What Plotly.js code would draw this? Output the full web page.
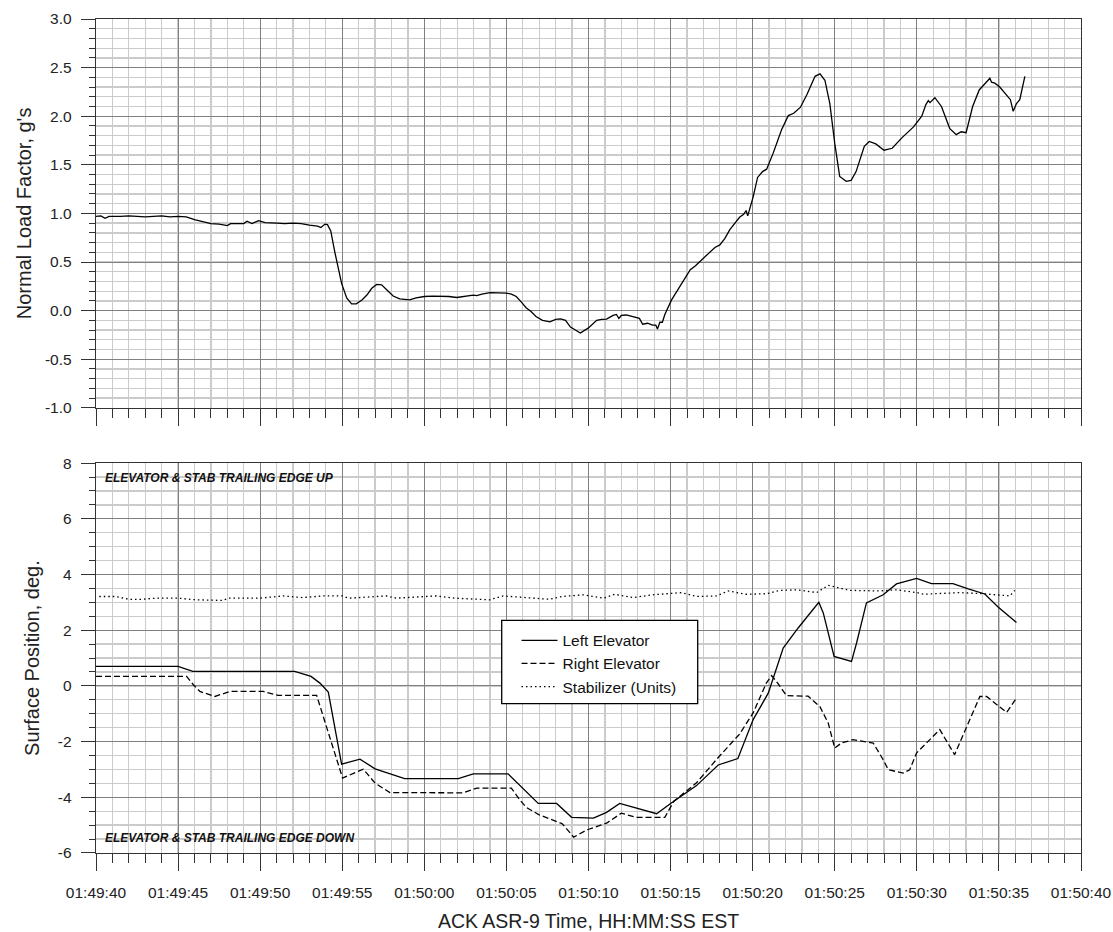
<!DOCTYPE html>
<html><head><meta charset="utf-8">
<script src="https://cdn.plot.ly/plotly-3.0.1.min.js"></script>
<style>html,body{margin:0;padding:0;background:#fff}#chart{width:1113px;height:932px}</style>
</head><body><div id="chart"></div>
<script>
// time axis: seconds after 01:49:40 EST
const tickSeconds = [0,5,10,15,20,25,30,35,40,45,50,55,60];
const timeLabels = ['01:49:40','01:49:45','01:49:50','01:49:55','01:50:00','01:50:05','01:50:10','01:50:15','01:50:20','01:50:25','01:50:30','01:50:35','01:50:40'];
const loadTicks = [-1.0,-0.5,0.0,0.5,1.0,1.5,2.0,2.5,3.0];
const loadTickLabels = ['-1.0','-0.5','0.0','0.5','1.0','1.5','2.0','2.5','3.0'];
const degTicks = [-6,-4,-2,0,2,4,6,8];
const degTickLabels = ['-6','-4','-2','0','2','4','6','8'];

// Normal load factor (g's)
const loadT = [0.0,0.3,0.55,0.8,1.5,2.0,2.5,3.0,3.5,4.0,4.5,5.0,5.5,6.0,6.5,7.0,7.5,8.0,8.2,9.0,9.2,9.5,9.9,10.3,11.0,11.5,12.0,12.5,13.0,13.5,13.7,13.95,14.1,14.3,14.55,14.8,14.96,15.27,15.57,15.85,16.2,16.5,16.8,17.1,17.4,17.8,18.1,18.5,19.1,19.5,20.0,20.5,20.95,21.5,21.97,22.5,22.98,23.2,23.5,24.0,24.5,25.0,25.3,25.6,25.9,26.2,26.5,26.8,27.2,27.65,28.0,28.3,28.6,28.9,29.2,29.5,29.98,30.5,30.8,31.1,31.5,31.7,31.85,32.0,32.3,32.7,33.1,33.3,33.6,33.9,34.1,34.2,34.35,34.5,34.65,35.06,35.4,35.67,36.2,36.5,36.8,37.1,37.4,37.7,38.0,38.3,38.6,38.9,39.2,39.45,39.6,39.7,40.03,40.3,40.6,40.85,41.25,41.76,42.17,42.5,42.9,43.3,43.8,44.1,44.4,44.7,45.0,45.3,45.7,46.0,46.3,46.8,47.1,47.5,48.0,48.5,49.1,49.8,50.3,50.55,50.7,50.8,51.1,51.5,52.0,52.4,52.7,53.0,53.4,53.8,54.25,54.45,54.55,54.75,55.05,55.46,55.7,55.87,56.07,56.27,56.58];
const loadG = [0.97,0.975,0.95,0.97,0.97,0.975,0.97,0.965,0.97,0.975,0.965,0.97,0.965,0.935,0.915,0.895,0.89,0.875,0.895,0.895,0.92,0.895,0.925,0.905,0.9,0.895,0.9,0.895,0.88,0.87,0.855,0.89,0.885,0.82,0.6,0.4,0.28,0.13,0.07,0.07,0.11,0.16,0.23,0.27,0.265,0.2,0.15,0.12,0.11,0.13,0.145,0.15,0.15,0.145,0.135,0.145,0.16,0.155,0.17,0.185,0.185,0.18,0.17,0.145,0.09,0.03,-0.01,-0.06,-0.1,-0.115,-0.09,-0.085,-0.1,-0.17,-0.2,-0.23,-0.18,-0.1,-0.09,-0.088,-0.05,-0.04,-0.08,-0.05,-0.045,-0.06,-0.08,-0.14,-0.13,-0.15,-0.15,-0.19,-0.12,-0.12,-0.04,0.11,0.2,0.28,0.42,0.46,0.505,0.55,0.6,0.65,0.676,0.74,0.83,0.9,0.96,0.99,1.03,0.975,1.17,1.37,1.43,1.455,1.62,1.86,2.006,2.03,2.09,2.22,2.41,2.435,2.37,2.13,1.72,1.38,1.33,1.34,1.43,1.69,1.74,1.715,1.65,1.67,1.78,1.89,2.0,2.12,2.16,2.14,2.19,2.1,1.875,1.81,1.84,1.83,2.1,2.27,2.355,2.39,2.35,2.34,2.3,2.22,2.17,2.05,2.13,2.17,2.41];

// Left elevator (deg)
const leftT = [0,5.0,5.9,12.1,13.1,13.64,14.15,14.55,14.96,16.08,17.0,18.8,22.07,22.98,25.1,26.94,28.06,28.97,30.3,31.1,31.9,34.15,34.96,36.58,37.9,39.1,40.03,40.95,41.35,41.86,42.77,44.03,44.3,44.96,46.02,46.33,46.93,47.95,48.76,49.98,50.89,52.2,53.13,54.14,54.95,56.07];
const leftDeg = [0.70,0.70,0.52,0.52,0.34,0.1,-0.22,-1.57,-2.81,-2.63,-2.98,-3.33,-3.33,-3.16,-3.16,-4.22,-4.22,-4.72,-4.75,-4.54,-4.22,-4.59,-4.24,-3.58,-2.84,-2.61,-1.21,-0.26,0.46,1.36,2.08,3.0,2.62,1.06,0.88,1.54,2.98,3.27,3.66,3.86,3.67,3.67,3.48,3.30,2.83,2.28];

// Right elevator (deg)
const rightT = [0,5.52,5.93,6.33,7.24,8.16,10.2,11.1,13.44,13.85,14.35,15.02,16.28,17.0,17.9,22.37,23.2,25.3,25.8,26.2,27.0,28.4,29.1,29.9,31.1,32.0,32.9,34.65,35.2,36.58,37.8,39.2,40.03,40.84,41.15,41.45,42.06,43.38,44.09,44.6,45.0,45.41,46.12,47.34,47.95,48.26,49.17,49.57,49.98,51.4,52.3,53.84,54.25,55.47,56.07];
const rightDeg = [0.34,0.34,0.04,-0.2,-0.38,-0.2,-0.2,-0.34,-0.34,-1.08,-2.05,-3.31,-2.99,-3.49,-3.83,-3.84,-3.67,-3.67,-4.08,-4.36,-4.63,-4.95,-5.43,-5.17,-4.93,-4.57,-4.72,-4.72,-4.14,-3.48,-2.64,-1.73,-0.97,0.11,0.37,0.16,-0.35,-0.37,-0.74,-1.33,-2.23,-2.05,-1.93,-2.05,-2.65,-3.01,-3.13,-3.01,-2.41,-1.57,-2.47,-0.38,-0.38,-0.95,-0.44];

// Stabilizer (units)
const stabT = [0.2,1.2,2.0,2.8,3.65,5.0,6.1,7.7,8.1,9.95,11.4,12.6,13.8,15.0,15.4,17.05,17.7,18.3,19.9,20.7,21.9,23.95,24.8,26.4,27.6,28.4,29.68,30.9,31.6,32.7,33.9,35.67,36.58,37.8,38.5,39.6,40.85,41.66,42.7,43.9,44.6,45.9,47.75,48.76,50.0,50.4,52.6,54.0,55.66,55.97];
const stabUnits = [3.21,3.21,3.11,3.11,3.15,3.15,3.09,3.07,3.15,3.15,3.23,3.17,3.23,3.23,3.15,3.19,3.23,3.15,3.19,3.23,3.15,3.09,3.23,3.15,3.11,3.21,3.27,3.15,3.29,3.17,3.27,3.35,3.21,3.23,3.41,3.29,3.31,3.43,3.45,3.35,3.61,3.43,3.41,3.45,3.35,3.29,3.35,3.31,3.23,3.43];

const seriesNames = ['Left Elevator','Right Elevator','Stabilizer (Units)'];
const noteUp = 'ELEVATOR & STAB TRAILING EDGE UP';
const noteDown = 'ELEVATOR & STAB TRAILING EDGE DOWN';

const FONT = 'Arial, "Liberation Sans", sans-serif';
const MAJ = '#808080', MIN = '#cbcbcb', AX = '#333333';

function xAxis(showLabels, anchor) {
  return {
    anchor: anchor, range: [0, 60], tickmode: 'array', tickvals: tickSeconds, ticktext: timeLabels,
    showticklabels: showLabels, ticks: 'outside', ticklen: 17, tickwidth: 1, tickcolor: AX,
    ticklabelstandoff: 8,
    showgrid: true, gridcolor: MAJ, gridwidth: 1, zeroline: false,
    showline: true, linecolor: AX, linewidth: 1.3, mirror: true,
    minor: {dtick: 1, tick0: 0, showgrid: true, gridcolor: MIN, gridwidth: 1.3, ticks: 'outside', ticklen: 9, tickcolor: AX, tickwidth: 1},
    tickfont: {family: FONT, size: 15.5, color: '#222'}
  };
}

const traces = [
  {x: loadT, y: loadG, xaxis: 'x', yaxis: 'y', mode: 'lines', line: {color: '#000', width: 1.3}, showlegend: false, name: "Normal Load Factor"},
  {x: leftT, y: leftDeg, xaxis: 'x2', yaxis: 'y2', mode: 'lines', name: seriesNames[0], line: {color: '#000', width: 1.3}},
  {x: rightT, y: rightDeg, xaxis: 'x2', yaxis: 'y2', mode: 'lines', name: seriesNames[1], line: {color: '#000', width: 1.3, dash: '6px,3px'}},
  {x: stabT, y: stabUnits, xaxis: 'x2', yaxis: 'y2', mode: 'lines', name: seriesNames[2], line: {color: '#000', width: 1.3, dash: '1.5px,3px'}}
];

const W = 1113, H = 932, L = 96, R = 32, T = 19, B = 78.6;
const plotH = H - T - B, plotW = W - L - R;
const py = Y => (H - B - Y) / plotH;
const px = X => (X - L) / plotW;

const layout = {
  width: W, height: H, paper_bgcolor: '#fff', plot_bgcolor: '#fff',
  margin: {l: L, r: R, t: T, b: B},
  font: {family: FONT, color: '#222'},
  xaxis: xAxis(false, 'y'),
  xaxis2: Object.assign(xAxis(true, 'y2'), {
    title: {text: 'ACK ASR-9 Time, HH:MM:SS EST', font: {family: FONT, size: 19.5, color: '#222'}, standoff: 16}
  }),
  yaxis: {
    domain: [py(408), 1], anchor: 'x', range: [-1, 3], tickmode: 'array', tickvals: loadTicks, ticktext: loadTickLabels,
    ticks: 'outside', ticklen: 14, tickwidth: 1, tickcolor: AX, ticklabelstandoff: 6,
    showgrid: true, gridcolor: MAJ, gridwidth: 1, zeroline: false,
    showline: true, linecolor: AX, linewidth: 1.3, mirror: true,
    minor: {dtick: 0.1, tick0: 0, showgrid: true, gridcolor: MIN, gridwidth: 1.3, ticks: 'outside', ticklen: 6, tickcolor: AX, tickwidth: 1},
    tickfont: {family: FONT, size: 15.5, color: '#222'},
    title: {text: "Normal Load Factor, g's", font: {family: FONT, size: 20, color: '#222'}, standoff: 8}
  },
  yaxis2: {
    domain: [0, py(463.3)], anchor: 'x2', range: [-6, 8], tickmode: 'array', tickvals: degTicks, ticktext: degTickLabels,
    ticks: 'outside', ticklen: 14, tickwidth: 1, tickcolor: AX, ticklabelstandoff: 6,
    showgrid: true, gridcolor: MAJ, gridwidth: 1, zeroline: false,
    showline: true, linecolor: AX, linewidth: 1.3, mirror: true,
    minor: {dtick: 0.5, tick0: 0, showgrid: true, gridcolor: MIN, gridwidth: 1.3, ticks: 'outside', ticklen: 6, tickcolor: AX, tickwidth: 1},
    tickfont: {family: FONT, size: 15.5, color: '#222'},
    title: {text: 'Surface Position, deg.', font: {family: FONT, size: 20, color: '#222'}, standoff: 12}
  },
  shapes: [{
    type: 'rect', xref: 'paper', yref: 'paper', layer: 'above',
    x0: px(501.7), x1: px(697.7), y0: py(704), y1: py(620.7),
    line: {color: '#000', width: 1.3}, fillcolor: '#fff'
  }],
  legend: {
    x: px(516.5), y: py(624), xanchor: 'left', yanchor: 'top', itemwidth: 36,
    bgcolor: 'rgba(0,0,0,0)', borderwidth: 0, tracegroupgap: 0,
    font: {family: FONT, size: 15.5, color: '#111'}
  },
  annotations: [
    {xref: 'x2', yref: 'y2', x: 0.4, y: 7.47, xanchor: 'left', yanchor: 'middle', showarrow: false, text: '<b><i>' + noteUp + '</i></b>', font: {family: FONT, size: 12, color: '#111'}},
    {xref: 'x2', yref: 'y2', x: 0.4, y: -5.45, xanchor: 'left', yanchor: 'middle', showarrow: false, text: '<b><i>' + noteDown + '</i></b>', font: {family: FONT, size: 12, color: '#111'}}
  ],
  showlegend: true
};

Plotly.newPlot('chart', traces, layout, {staticPlot: true, displayModeBar: false});
</script>
</body></html>
